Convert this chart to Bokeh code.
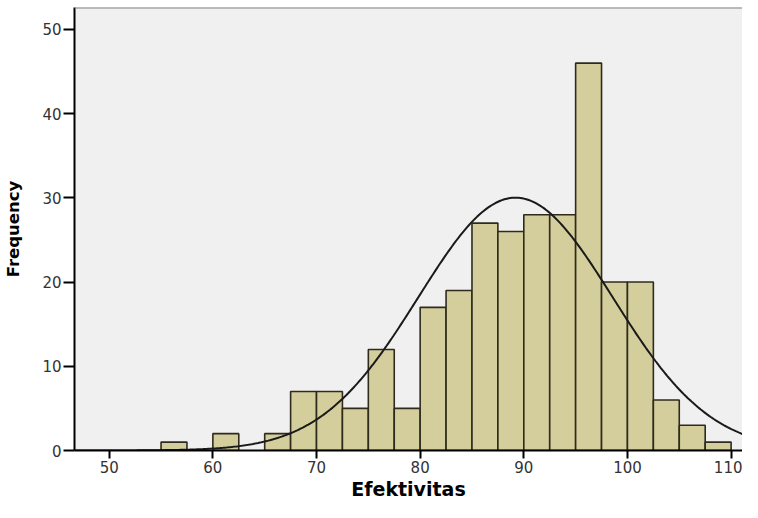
import math
from bokeh.plotting import figure
from bokeh.models import Span, FixedTicker
from bokeh.embed import file_html
from bokeh.resources import INLINE

# ---- data ----
bin_left = [55.0, 57.5, 60.0, 62.5, 65.0, 67.5, 70.0, 72.5, 75.0, 77.5, 80.0,
            82.5, 85.0, 87.5, 90.0, 92.5, 95.0, 97.5, 100.0, 102.5, 105.0, 107.5]
counts = [1, 0, 2, 0, 2, 7, 7, 5, 12, 5, 17, 19, 27, 26, 28, 28, 46, 20, 20, 6, 3, 1]
bin_width = 2.5
fit_mean = 89.2
fit_sd = 9.37
x_ticks = [50, 60, 70, 80, 90, 100, 110]
y_ticks = [0, 10, 20, 30, 40, 50]

n_total = sum(counts)
y_top = 52.6

p = figure(width=742, height=502, output_backend="svg", toolbar_location=None,
           x_range=(46.65, 111.1), y_range=(0, y_top),
           min_border_left=74, min_border_right=0, min_border_top=7,
           min_border_bottom=52)
p.background_fill_color = "#f0f0f0"
p.border_fill_color = "white"
p.outline_line_color = None
p.xgrid.visible = False
p.ygrid.visible = False

# histogram bars
lefts = [l for l, c in zip(bin_left, counts) if c > 0]
rights = [l + bin_width for l, c in zip(bin_left, counts) if c > 0]
tops = [c for c in counts if c > 0]
p.quad(left=lefts, right=rights, bottom=0, top=tops,
       fill_color="#d3ce9b", line_color="#2f2b1c", line_width=1.6)

# fitted normal curve
xs = [p.x_range.start + i * (p.x_range.end - p.x_range.start) / 400 for i in range(401)]
ys = [n_total * bin_width / (fit_sd * math.sqrt(2 * math.pi)) *
      math.exp(-0.5 * ((x - fit_mean) / fit_sd) ** 2) for x in xs]
p.line(xs, ys, line_color="#1a1a1a", line_width=2)

# top border
p.add_layout(Span(location=y_top, dimension="width", line_color="#808080", line_width=2))

# axes
for ax in (p.xaxis[0], p.yaxis[0]):
    ax.axis_line_color = "black"
    ax.axis_line_width = 2
    ax.major_tick_line_color = "black"
    ax.major_tick_line_width = 2
    ax.major_tick_in = 0
    ax.minor_tick_line_color = None
    ax.major_label_text_font = "DejaVu Sans"
    ax.major_label_text_font_size = "15px"
    ax.major_label_text_color = "#333333"
    ax.axis_label_text_font = "DejaVu Sans"
    ax.axis_label_text_font_style = "bold"
    ax.axis_label_text_color = "black"

p.xaxis[0].ticker = FixedTicker(ticks=x_ticks)
p.yaxis[0].ticker = FixedTicker(ticks=y_ticks)
p.xaxis[0].major_tick_out = 8
p.yaxis[0].major_tick_out = 11
p.xaxis[0].major_label_standoff = 2
p.yaxis[0].major_label_standoff = 2
p.xaxis[0].axis_label = "Efektivitas"
p.yaxis[0].axis_label = "Frequency"
p.xaxis[0].axis_label_text_font_size = "19px"
p.yaxis[0].axis_label_text_font_size = "16.5px"
p.xaxis[0].axis_label_standoff = 2
p.yaxis[0].axis_label_standoff = 16

open("out.html", "w").write(file_html(p, INLINE))
